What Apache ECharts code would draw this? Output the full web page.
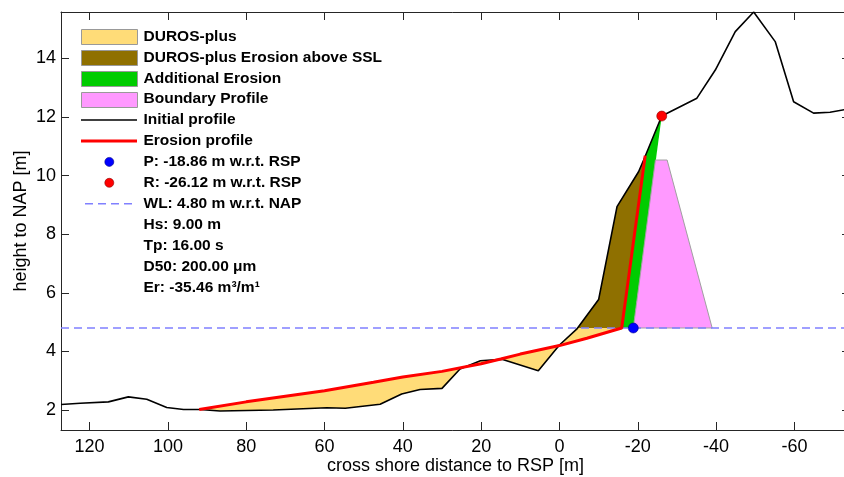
<!DOCTYPE html>
<html><head><meta charset="utf-8">
<script src="https://cdn.jsdelivr.net/npm/echarts@6/dist/echarts.min.js"></script>
<style>html,body{margin:0;padding:0;background:#fff}#c{width:844px;height:477px}</style>
</head><body><div id="c"></div>
<script>
// ---------- data ----------
const xRange = [-74.2, 127.3];
const yRange = [1.32, 15.58];
const waterLevel = 4.8;

// initial profile (x, z), ordered land-ward
const initialProfile = [
  [127.3,2.19],[122.4,2.23],[115.2,2.28],[110.1,2.45],[105.4,2.37],[100.3,2.09],
  [96.0,2.02],[91.8,2.02],[86.7,1.97],[73.1,2.00],[59.4,2.08],[54.7,2.06],
  [45.8,2.20],[40.3,2.55],[35.6,2.70],[30.0,2.74],[25.4,3.40],[20.2,3.68],
  [14.7,3.73],[5.4,3.34],[0.0,4.22],[-4.4,4.76],[-10.0,5.77],[-14.7,8.94],
  [-20.2,10.13],[-21.5,10.53],[-26.12,12.03],[-35.1,12.64],[-39.8,13.60],
  [-44.9,14.91],[-49.6,15.58],[-55.1,14.57],[-59.8,12.52],[-64.9,12.13],
  [-69.1,12.16],[-74.2,12.28]
];
// DUROS-plus erosion profile
const erosionBelowWL = [
  [92.0,2.02],[80.0,2.28],[60.0,2.66],[47.5,2.95],[40.0,3.13],[30.0,3.32],
  [20.0,3.58],[15.0,3.74],[10.0,3.91],[0.0,4.20],[-7.0,4.45],[-15.9,4.80]
];
const erosionTop = [-21.9, 10.68];
const wlCrossing = [-4.55, 4.80];
const pointP = [-18.86, 4.80];
const pointR = [-26.12, 12.03];
const boundaryProfile = [[-18.86,4.80],[-24.5,10.53],[-27.5,10.53],[-39.0,4.80]];

const legendLabels = [
  'DUROS-plus','DUROS-plus Erosion above SSL','Additional Erosion','Boundary Profile',
  'Initial profile','Erosion profile','P: -18.86 m w.r.t. RSP','R: -26.12 m w.r.t. RSP',
  'WL: 4.80 m w.r.t. NAP','Hs: 9.00 m','Tp: 16.00 s','D50: 200.00 \u03bcm','Er: -35.46 m\u00b3/m\u00b9'
];

// ---------- derived polygons ----------
const erosionProfile = erosionBelowWL.concat([erosionTop]);
const redBottom = erosionBelowWL[erosionBelowWL.length - 1];
const yellowPoly = erosionBelowWL
  .concat([wlCrossing])
  .concat(initialProfile.filter(p => p[0] <= 92 && p[0] > wlCrossing[0]).reverse());
const brownPoly = [wlCrossing]
  .concat(initialProfile.filter(p => p[0] < wlCrossing[0] && p[0] > erosionTop[0]))
  .concat([erosionTop, redBottom]);
const greenPoly = [redBottom, erosionTop, pointR, pointP];
const waterLine = [[xRange[1], waterLevel], [xRange[0], waterLevel]];

const C = {
  yellow: '#FFDC78', brown: '#8F7000', green: '#00CC00', pink: '#FF99FF',
  wl: '#8080FF', blue: '#0000FF', red: '#FF0000', axis: '#262626'
};
const FONT = '"Liberation Sans", Arial, Helvetica, sans-serif';

function polygonSeries(name, pts, fill, stroke, z) {
  return {
    type: 'custom', name: name, z: z, data: pts, animation: false, silent: true,
    clip: true,
    renderItem: function (params, api) {
      if (params.dataIndex !== 0) return;
      return {
        type: 'polygon',
        shape: { points: pts.map(p => api.coord(p)) },
        style: { fill: fill, stroke: stroke || null, lineWidth: stroke ? 1 : 0 }
      };
    }
  };
}

// ---------- legend via graphic ----------
const graphic = [];
const lx0 = 81, lx1 = 137, tx = 143.5, row0 = 36.5, rowH = 20.9;
legendLabels.forEach((lab, i) => {
  const cy = row0 + i * rowH;
  if (i < 4) {
    const fills = [C.yellow, C.brown, C.green, C.pink];
    graphic.push({ type: 'rect', shape: { x: lx0 + 0.5, y: Math.round(cy - 7.5) + 0.5, width: lx1 - lx0, height: 15 },
      style: { fill: fills[i], stroke: '#999', lineWidth: 1 } });
  } else if (i === 4) {
    graphic.push({ type: 'line', shape: { x1: lx0, y1: cy, x2: lx1, y2: cy }, style: { stroke: '#000', lineWidth: 1.5 } });
  } else if (i === 5) {
    graphic.push({ type: 'line', shape: { x1: lx0, y1: cy, x2: lx1, y2: cy }, style: { stroke: C.red, lineWidth: 3 } });
  } else if (i === 6 || i === 7) {
    graphic.push({ type: 'circle', shape: { cx: 109.3, cy: cy, r: 4.5 },
      style: { fill: i === 6 ? C.blue : C.red, stroke: i === 6 ? '#00008a' : '#8a0000', lineWidth: 0.6 } });
  } else if (i === 8) {
    graphic.push({ type: 'line', shape: { x1: 85, y1: cy, x2: lx1, y2: cy }, style: { stroke: C.wl, lineWidth: 1.5, lineDash: [8, 5] } });
  }
  graphic.push({ type: 'text', x: tx, y: cy,
    style: { text: lab, font: 'bold 15.5px ' + FONT, fill: '#000', align: 'left', verticalAlign: 'middle' } });
});

const axisCommon = {
  axisLine: { onZero: false, lineStyle: { color: C.axis, width: 1 } },
  axisTick: { inside: true, length: 8, lineStyle: { color: C.axis } },
  splitLine: { show: false }
};

const chart = echarts.init(document.getElementById('c'), null, { renderer: 'canvas' });
chart.setOption({
  animation: false,
  backgroundColor: '#fff',
  grid: { left: 61, right: -6, top: 12, bottom: 47, containLabel: false, outerBoundsMode: 'none' },
  xAxis: [
    Object.assign({}, axisCommon, {
      type: 'value', inverse: true, min: xRange[0], max: xRange[1], splitNumber: 10,
      axisLabel: { color: '#000', fontSize: 18, fontFamily: FONT, margin: 8, showMinLabel: false, showMaxLabel: false },
      name: 'cross shore distance to RSP [m]', nameLocation: 'middle', nameGap: 27, nameMoveOverlap: false,
      nameTextStyle: { color: '#000', fontSize: 18, fontFamily: FONT }
    }),
    Object.assign({}, axisCommon, {
      type: 'value', inverse: true, position: 'top', min: xRange[0], max: xRange[1], splitNumber: 10,
      axisLabel: { show: false }
    })
  ],
  yAxis: [
    Object.assign({}, axisCommon, {
      type: 'value', min: yRange[0], max: yRange[1], splitNumber: 7,
      axisLabel: { color: '#000', fontSize: 18, fontFamily: FONT, margin: 5, showMinLabel: false, showMaxLabel: false },
      name: 'height to NAP [m]', nameLocation: 'middle', nameGap: 31, nameMoveOverlap: false,
      nameTextStyle: { color: '#000', fontSize: 18, fontFamily: FONT }
    }),
    Object.assign({}, axisCommon, {
      type: 'value', position: 'right', min: yRange[0], max: yRange[1], splitNumber: 7,
      axisLabel: { show: false }
    })
  ],
  graphic: graphic,
  series: [
    polygonSeries('DUROS-plus', yellowPoly, C.yellow, null, 2),
    polygonSeries('DUROS-plus Erosion above SSL', brownPoly, C.brown, null, 2),
    polygonSeries('Additional Erosion', greenPoly, C.green, null, 2),
    polygonSeries('Boundary Profile', boundaryProfile, C.pink, '#a0a0a0', 2),
    { type: 'line', name: 'WL', data: waterLine, z: 3, showSymbol: false, silent: true,
      lineStyle: { color: C.wl, width: 1.5, type: [8, 5] } },
    { type: 'line', name: 'Initial profile', data: initialProfile, z: 4, showSymbol: false, silent: true,
      lineStyle: { color: '#000', width: 1.6 } },
    { type: 'line', name: 'Erosion profile', data: erosionProfile, z: 5, showSymbol: false, silent: true,
      lineStyle: { color: C.red, width: 3 } },
    { type: 'scatter', name: 'P', data: [pointP], z: 6, symbolSize: 10, silent: true,
      itemStyle: { color: C.blue, borderColor: '#00008a', borderWidth: 0.6, opacity: 1 } },
    { type: 'scatter', name: 'R', data: [pointR], z: 6, symbolSize: 10, silent: true,
      itemStyle: { color: C.red, borderColor: '#8a0000', borderWidth: 0.6, opacity: 1 } }
  ]
});
</script>
</body></html>
